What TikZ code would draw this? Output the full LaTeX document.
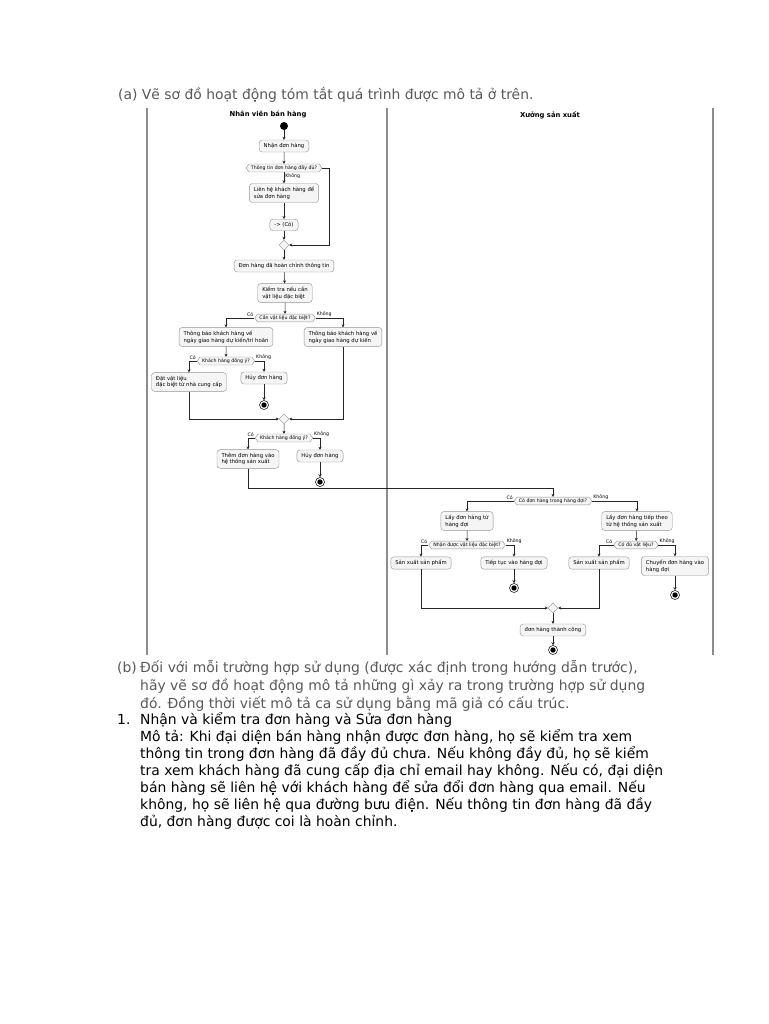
\documentclass[tikz,border=0pt]{standalone}
\usepackage{fontspec}
\setmainfont{DejaVu Sans}
\usetikzlibrary{arrows.meta,shapes.symbols,shapes.geometric}

\begin{document}
\begin{tikzpicture}[
    x=1pt, y=-1pt,
    every node/.style={font=\fontsize{5.3}{6.7}\selectfont},
    act/.style={draw=gray!85, fill=gray!8, rounded corners=3pt, line width=0.4pt,
      inner xsep=4.5pt, inner ysep=3.3pt, align=left},
    dec/.style={signal, signal to=east and west, signal pointer angle=110,
      draw=gray!85, fill=gray!8, line width=0.4pt, inner xsep=2pt, inner ysep=1.5pt,
      font=\fontsize{4.7}{5.5}\selectfont},
    merge/.style={diamond, draw=gray!85, fill=gray!8, line width=0.4pt,
      minimum size=10pt, inner sep=0pt},
    lbl/.style={font=\fontsize{4.7}{5.5}\selectfont, inner sep=1pt},
    begin/.style={circle, fill=black, minimum size=8pt, inner sep=0pt},
    stop/.style={circle, draw=black, fill=white, line width=0.5pt, minimum size=9pt,
      inner sep=0pt, path picture={\fill[black] (path picture bounding box.center) circle (2.7pt);}},
    flow/.style={draw=black!85, line width=0.5pt, -{Stealth[length=3pt,width=3pt]}},
    lane/.style={draw=gray!90, line width=1.3pt},
    hdr/.style={font=\bfseries\fontsize{6.8}{8}\selectfont},
    txt/.style={font=\fontsize{13.9}{16}\selectfont, anchor=base west, inner sep=0pt},
    ]
    \useasboundingbox (0,0) rectangle (768,1024);
    \fill[white] (0,0) rectangle (768,1024);

    \node[txt, text=gray!70!black] (qa) at (118,100) {(a) Vẽ sơ đồ hoạt động tóm tắt quá trình được mô tả ở trên.};

    \draw[lane] (147,108) -- (147,655);
    \draw[lane] (387,108) -- (387,655);
    \draw[lane] (713,108) -- (713,655);
    \node[hdr] (lane1) at (268,115) {Nhân viên bán hàng};
    \node[hdr] (lane2) at (550,115) {Xưởng sản xuất};

    \node[begin] (s0) at (284,126) {};
    \node[act] (a1) at (284,146) {Nhận đơn hàng};
    \node[dec] (d1) at (284,168) {Thông tin đơn hàng đầy đủ?};
    \node[act] (a2) at (284,193) {Liên hệ khách hàng để\\sửa đơn hàng};
    \node[act] (a3) at (284,225) {-> (Có)};
    \node[merge] (m1) at (284,245) {};
    \node[act] (a4) at (284,266) {Đơn hàng đã hoàn chỉnh thông tin};
    \node[act] (a5) at (285,293) {Kiểm tra nếu cần\\vật liệu đặc biệt};
    \node[dec] (d2) at (285,318) {Cần vật liệu đặc biệt?};
    \node[act] (a6) at (226,337) {Thông báo khách hàng về\\ngày giao hàng dự kiến/trì hoãn};
    \node[act] (a7) at (343,337) {Thông báo khách hàng về\\ngày giao hàng dự kiến};
    \node[dec] (d3) at (226,361) {Khách hàng đồng ý?};
    \node[act] (a8) at (189,382) {Đặt vật liệu\\đặc biệt từ nhà cung cấp};
    \node[act] (a9) at (264,378) {Hủy đơn hàng};
    \node[stop] (e1) at (264,405) {};
    \node[merge] (m2) at (284,419) {};
    \node[dec] (d4) at (284,438) {Khách hàng đồng ý?};
    \node[act] (a10) at (248,459) {Thêm đơn hàng vào\\hệ thống sản xuất};
    \node[act] (a11) at (320,456) {Hủy đơn hàng};
    \node[stop] (e2) at (320,482) {};

    \node[dec] (d5) at (553,501) {Có đơn hàng trong hàng đợi?};
    \node[act] (b1) at (467,521) {Lấy đơn hàng từ\\hàng đợi};
    \node[act] (b2) at (637,521) {Lấy đơn hàng tiếp theo\\từ hệ thống sản xuất};
    \node[dec] (d6) at (467,545) {Nhận được vật liệu đặc biệt?};
    \node[act] (b3) at (421,563) {Sản xuất sản phẩm};
    \node[act] (b4) at (514,563) {Tiếp tục vào hàng đợi};
    \node[stop] (e3) at (514,588) {};
    \node[dec] (d7) at (636,545) {Có đủ vật liệu?};
    \node[act] (b5) at (599,563) {Sản xuất sản phẩm};
    \node[act] (b6) at (675,566) {Chuyển đơn hàng vào\\hàng đợi};
    \node[stop] (e4) at (675,595) {};
    \node[merge] (m3) at (553,608) {};
    \node[act] (b7) at (553,630) {đơn hàng thành công};
    \node[stop] (e5) at (553,650) {};

    \draw[flow] (s0) -- (a1);
    \draw[flow] (a1) -- (d1);
    \draw[flow] (d1.south) node[lbl, anchor=north west] {Không} -- (a2.north);
    \draw[flow] (a2) -- (a3);
    \draw[flow] (a3) -- (m1);
    \draw[flow] (d1.east) -- ++(7,0) |- (m1.east);
    \draw[flow] (m1) -- (a4);
    \draw[flow] (a4) -- (a5);
    \draw[flow] (a5) -- (d2);
    \draw[flow] (d2.west) node[lbl, anchor=south east] {Có} -| (a6.north);
    \draw[flow] (d2.east) node[lbl, anchor=south west] {Không} -| (a7.north);
    \draw[flow] (a6) -- (d3);
    \draw[flow] (d3.west) node[lbl, anchor=south east] {Có} -| (a8.north);
    \draw[flow] (d3.east) node[lbl, anchor=south west] {Không} -| (a9.north);
    \draw[flow] (a9) -- (e1);
    \draw[flow] (a8.south) |- (m2.west);
    \draw[flow] (a7.south) |- (m2.east);
    \draw[flow] (m2) -- (d4);
    \draw[flow] (d4.west) node[lbl, anchor=south east] {Có} -| (a10.north);
    \draw[flow] (d4.east) node[lbl, anchor=south west] {Không} -| (a11.north);
    \draw[flow] (a11) -- (e2);
    \draw[flow] (a10.south) -- ++(0,20) -| (d5.north);

    \draw[flow] (d5.west) node[lbl, anchor=south east] {Có} -| (b1.north);
    \draw[flow] (d5.east) node[lbl, anchor=south west] {Không} -| (b2.north);
    \draw[flow] (b1) -- (d6);
    \draw[flow] (d6.west) node[lbl, anchor=south east] {Có} -| (b3.north);
    \draw[flow] (d6.east) node[lbl, anchor=south west] {Không} -| (b4.north);
    \draw[flow] (b4) -- (e3);
    \draw[flow] (b2) -- (d7);
    \draw[flow] (d7.west) node[lbl, anchor=south east] {Có} -| (b5.north);
    \draw[flow] (d7.east) node[lbl, anchor=south west] {Không} -| (b6.north);
    \draw[flow] (b6) -- (e4);
    \draw[flow] (b3.south) |- (m3.west);
    \draw[flow] (b5.south) |- (m3.east);
    \draw[flow] (m3) -- (b7);
    \draw[flow] (b7) -- (e5);

    \node[txt, text=gray!70!black] (qb) at (117,672) {(b)};
    \node[txt, text=gray!70!black] (qb1) at (140,672) {Đối với mỗi trường hợp sử dụng (được xác định trong hướng dẫn trước),};
    \node[txt, text=gray!70!black] (qb2) at (140,690) {hãy vẽ sơ đồ hoạt động mô tả những gì xảy ra trong trường hợp sử dụng};
    \node[txt, text=gray!70!black] (qb3) at (140,708) {đó. Đồng thời viết mô tả ca sử dụng bằng mã giả có cấu trúc.};

    \node[txt] (n1) at (117,724) {1.};
    \node[txt] (p1) at (140,724) {Nhận và kiểm tra đơn hàng và Sửa đơn hàng};
    \node[txt] (p2) at (140,741) {Mô tả: Khi đại diện bán hàng nhận được đơn hàng, họ sẽ kiểm tra xem};
    \node[txt] (p3) at (140,758) {thông tin trong đơn hàng đã đầy đủ chưa. Nếu không đầy đủ, họ sẽ kiểm};
    \node[txt] (p4) at (140,775) {tra xem khách hàng đã cung cấp địa chỉ email hay không. Nếu có, đại diện};
    \node[txt] (p5) at (140,792) {bán hàng sẽ liên hệ với khách hàng để sửa đổi đơn hàng qua email. Nếu};
    \node[txt] (p6) at (140,809) {không, họ sẽ liên hệ qua đường bưu điện. Nếu thông tin đơn hàng đã đầy};
    \node[txt] (p7) at (140,826) {đủ, đơn hàng được coi là hoàn chỉnh.};
\end{tikzpicture}
\end{document}
